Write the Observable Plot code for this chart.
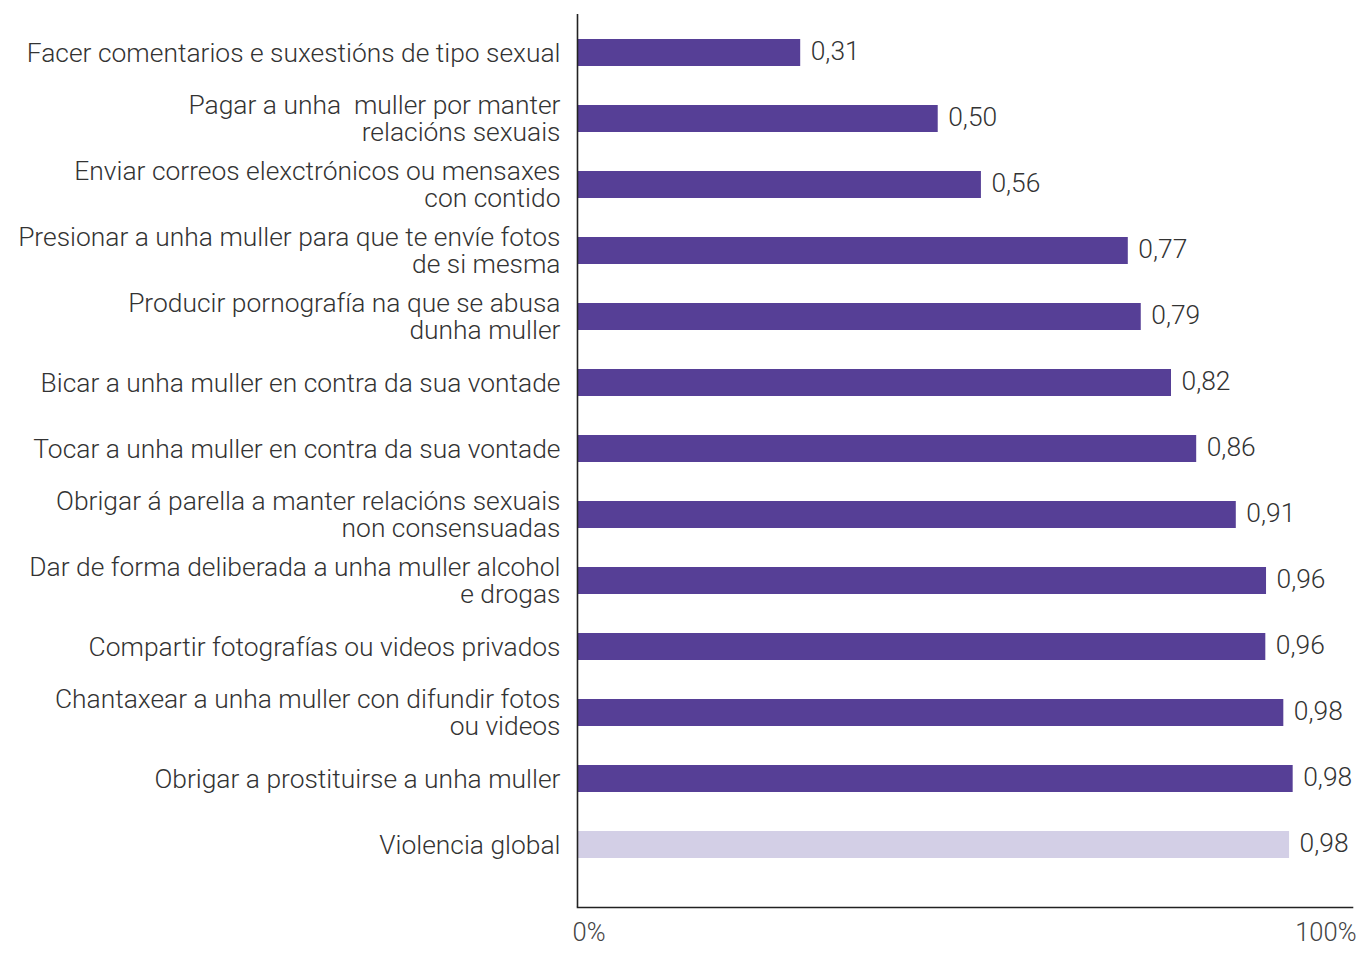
<!DOCTYPE html>
<html>
<head>
<meta charset="utf-8">
<script src="https://cdn.jsdelivr.net/npm/d3@7"></script>
<script src="https://cdn.jsdelivr.net/npm/@observablehq/plot@0.6"></script>
<style>
  html, body { margin: 0; padding: 0; background: #fff; }
  #chart svg { display: block; }
</style>
</head>
<body>
<div id="chart"></div>
<script>
// ---- data ----
const categories = [
  "Facer comentarios e suxestións de tipo sexual",
  "Pagar a unha  muller por manter\nrelacións sexuais",
  "Enviar correos elexctrónicos ou mensaxes\ncon contido",
  "Presionar a unha muller para que te envíe fotos\nde si mesma",
  "Producir pornografía na que se abusa\ndunha muller",
  "Bicar a unha muller en contra da sua vontade",
  "Tocar a unha muller en contra da sua vontade",
  "Obrigar á parella a manter relacións sexuais\nnon consensuadas",
  "Dar de forma deliberada a unha muller alcohol\ne drogas",
  "Compartir fotografías ou videos privados",
  "Chantaxear a unha muller con difundir fotos\nou videos",
  "Obrigar a prostituirse a unha muller",
  "Violencia global"
];
// bar lengths as drawn (share, 0–1)
const values = [0.310, 0.501, 0.561, 0.765, 0.783, 0.825, 0.860, 0.915, 0.957, 0.956, 0.981, 0.994, 0.989];
// printed value labels
const valueLabels = ["0,31", "0,50", "0,56", "0,77", "0,79", "0,82", "0,86", "0,91", "0,96", "0,96", "0,98", "0,98", "0,98"];
const groups = ["item", "item", "item", "item", "item", "item", "item", "item", "item", "item", "item", "item", "global"];
const axisMax = 1.0764;
const tickValues = [0, axisMax];
const tickLabels = ["0%", "100%"];
const tickAnchors = ["start", "end"];

const rows = categories.map((c, i) => ({ category: c, value: values[i], label: valueLabels[i], group: groups[i] }));
const ticks = tickValues.map((v, i) => ({ v, label: tickLabels[i], anchor: tickAnchors[i] }));

const font = "Roboto, 'Open Sans', sans-serif";
const fs = 26.4;

const chart = Plot.plot({
  width: 1358,
  height: 954,
  marginLeft: 577,
  marginRight: 6,
  marginTop: 14,
  marginBottom: 47,
  style: { fontFamily: font, fontSize: fs + "px", fontWeight: 300, color: "#333", background: "#fff" },
  x: { domain: [0, axisMax], axis: null },
  y: { domain: categories, range: [17.83, 880.17], paddingInner: 0.585, paddingOuter: 0.2925, axis: null },
  color: { domain: ["item", "global"], range: ["#563f96", "#d3cfe6"] },
  marks: [
    Plot.barX(rows, { x1: 0, x2: "value", y: "category", fill: "group", insetLeft: 1 }),
    Plot.text(rows, { x: "value", y: "category", text: "label", textAnchor: "start", dx: 10, dy: -1, fill: "#333", fontSize: fs, fontWeight: 300 }),
    Plot.text(rows, { x: 0, y: "category", text: "category", textAnchor: "end", dx: -17, dy: 0, fill: "#333", fontSize: fs, fontWeight: 300, lineHeight: 1.03 }),
    Plot.ruleX([0], { stroke: "#222", strokeWidth: 1.6 }),
    Plot.frame({ anchor: "bottom", stroke: "#222", strokeWidth: 1.6 }),
    Plot.text(ticks.filter(d => d.anchor === "start"), { x: "v", text: "label", frameAnchor: "bottom", dy: 33, dx: -5, textAnchor: "start", fill: "#444", fontSize: 25.5, fontWeight: 300 }),
    Plot.text(ticks.filter(d => d.anchor === "end"), { x: "v", text: "label", frameAnchor: "bottom", dy: 33, dx: 4, textAnchor: "end", fill: "#444", fontSize: 25.5, fontWeight: 300 })
  ]
});

document.getElementById("chart").appendChild(chart);
</script>
</body>
</html>
